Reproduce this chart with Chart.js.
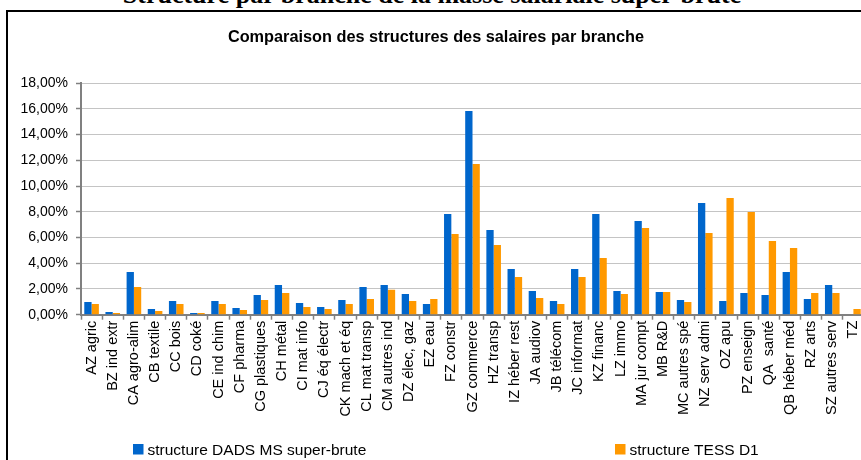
<!DOCTYPE html>
<html lang="fr">
<head>
<meta charset="utf-8">
<title>Structure par branche de la masse salariale super-brute</title>
<script src="https://cdn.jsdelivr.net/npm/chart.js@4.4.1/dist/chart.umd.min.js"></script>
<style>
  html, body { margin: 0; padding: 0; background: #fff; overflow: hidden; }
  body { width: 861px; height: 460px; position: relative; }
  #page-title {
    position: absolute; left: 0; width: 864px; top: -18px;
    text-align: center; font: bold 26px "Liberation Serif", "Times New Roman", serif;
    line-height: 26px; color: #000; white-space: nowrap;
  }
  #chart-box {
    position: absolute; left: 6px; top: 10px;
    width: 864px; height: 460px;
    border: 2px solid #000; background: #fff;
  }
  #chart-box canvas { display: block; }
</style>
</head>
<body>
<div id="page-title">Structure par branche de la masse salariale super-brute</div>
<div id="chart-box"><canvas id="salaryStructureChart" width="864" height="456"></canvas></div>
<script>
(function () {
  const branches = [
    'AZ agric', 'BZ ind extr', 'CA agro-alim', 'CB textile', 'CC bois', 'CD coké',
    'CE ind chim', 'CF pharma', 'CG plastiques', 'CH métal', 'CI mat info', 'CJ éq électr',
    'CK mach et éq', 'CL mat transp', 'CM autres ind', 'DZ élec, gaz', 'EZ eau', 'FZ constr',
    'GZ commerce', 'HZ transp', 'IZ héber rest', 'JA audiov', 'JB télécom', 'JC informat',
    'KZ financ', 'LZ immo', 'MA jur compt', 'MB R&D', 'MC autres spé', 'NZ serv admi',
    'OZ apu', 'PZ enseign', 'QA  santé', 'QB héber méd', 'RZ arts', 'SZ autres serv', 'TZ',
  ];

  // shares of total payroll, in percent
  const dadsShares = [
    0.98, 0.21, 3.32, 0.44, 1.06, 0.13, 1.06, 0.52, 1.53, 2.31, 0.91, 0.60,
    1.14, 2.15, 2.31, 1.61, 0.83, 7.83, 15.84, 6.58, 3.55, 1.84, 1.06, 3.55,
    7.83, 1.84, 7.28, 1.76, 1.14, 8.68, 1.06, 1.68, 1.53, 3.32, 1.22, 2.31, 0,
  ];
  const tessShares = [
    0.83, 0.13, 2.15, 0.29, 0.83, 0.13, 0.83, 0.36, 1.14, 1.68, 0.60, 0.44,
    0.83, 1.22, 1.94, 1.06, 1.22, 6.27, 11.72, 5.42, 2.93, 1.30, 0.83, 2.93,
    4.41, 1.61, 6.74, 1.76, 0.98, 6.35, 9.07, 7.98, 5.73, 5.18, 1.68, 1.68, 0.44,
  ];

  const yTickMax = 18;
  const yTickStep = 2;

  const seriesLabels = ['structure DADS MS super-brute', 'structure TESS D1'];
  const seriesColors = ['#0066CC', '#FF9900'];

  const fontFamily = 'Arial, "Liberation Sans", sans-serif';

  function formatPercent(value) {
    return `${Number(value).toFixed(2).replace('.', ',')}%`;
  }

  // Excel-style legend: items spread apart under the plot
  const spreadLegend = {
    id: 'spreadLegend',
    afterDraw(chart) {
      const { ctx } = chart;
      const slots = [125, 607];
      ctx.save();
      ctx.font = `15.5px ${fontFamily}`;
      ctx.textBaseline = 'alphabetic';
      ctx.textAlign = 'left';
      chart.data.datasets.forEach((ds, i) => {
        const x = slots[i];
        ctx.fillStyle = ds.backgroundColor;
        ctx.fillRect(x, 432, 10.5, 10.5);
        ctx.fillStyle = '#000';
        ctx.fillText(ds.label, x + 14.5, 442.5);
      });
      ctx.restore();
    },
  };

  const canvas = document.getElementById('salaryStructureChart');

  new Chart(canvas, {
    type: 'bar',
    data: {
      labels: branches,
      datasets: [
        {
          label: seriesLabels[0],
          data: dadsShares,
          backgroundColor: seriesColors[0],
          categoryPercentage: 0.69,
          barPercentage: 1,
        },
        {
          label: seriesLabels[1],
          data: tessShares,
          backgroundColor: seriesColors[1],
          categoryPercentage: 0.69,
          barPercentage: 1,
        },
      ],
    },
    options: {
      responsive: false,
      animation: false,
      devicePixelRatio: 1,
      layout: { padding: { left: 0, right: 8, top: 0, bottom: 0 } },
      plugins: {
        legend: { display: false },
        tooltip: { enabled: false },
        title: {
          display: true,
          text: 'Comparaison des structures des salaires par branche',
          color: '#000',
          font: { family: fontFamily, size: 16.3, weight: 'bold' },
          padding: { top: 15.6, bottom: 36 },
        },
      },
      scales: {
        x: {
          afterFit: (scale) => { scale.height = 456 - 302.7; },
          grid: {
            offset: true,
            drawOnChartArea: false,
            drawTicks: true,
            tickLength: 5,
            tickColor: '#808080',
            tickWidth: 1.5,
          },
          border: { color: '#808080', width: 2 },
          ticks: {
            autoSkip: false,
            minRotation: 90,
            maxRotation: 90,
            padding: 1,
            color: '#000',
            font: { family: fontFamily, size: 14.5 },
          },
        },
        y: {
          min: 0,
          max: yTickMax,
          afterFit: (scale) => { scale.width = 73; },
          grid: {
            color: '#c4c4c4',
            lineWidth: 1,
            tickLength: 5,
            tickColor: '#808080',
            tickWidth: 1.5,
          },
          border: { color: '#808080', width: 2 },
          ticks: {
            stepSize: yTickStep,
            padding: 8,
            color: '#000',
            font: { family: fontFamily, size: 14 },
            callback: (value) => formatPercent(value),
          },
        },
      },
    },
    plugins: [spreadLegend],
  });
})();
</script>
</body>
</html>
